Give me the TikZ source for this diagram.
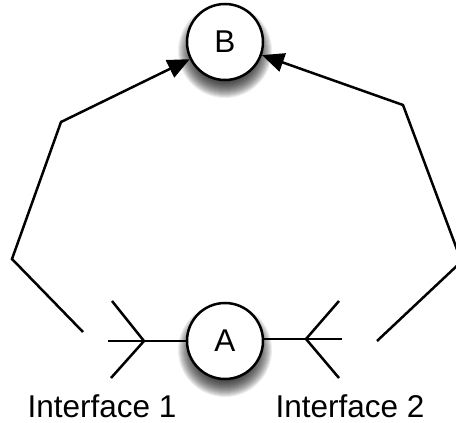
\documentclass[tikz,border=0pt]{standalone}
\usepackage{fontspec}
\setmainfont{Liberation Sans}
\usetikzlibrary{arrows.meta}
\tikzset{
  ball/.style={circle,draw=black,fill=white,line width=2.5pt,minimum size=76pt,inner sep=0pt,font=\fontsize{31.5}{36}\selectfont},
  wire/.style={line width=2.5pt,line join=miter},
  arr/.style={wire,-{Triangle[length=22pt,width=19pt]}},
  lbl/.style={anchor=base,font=\fontsize{31.5}{36}\selectfont}
}
\newcommand{\softshadow}[2]{%
  \foreach \k in {0,...,17}{
    \fill[black,opacity=0.07] (#1,#2+9) circle[radius=30+\k];
  }%
}
\begin{document}
\begin{tikzpicture}[x=1pt,y=-1pt]
\useasboundingbox (0,0) rectangle (456,423);
% shadows
\softshadow{225}{42}
\softshadow{225}{341}
% nodes
\node[ball] (B) at (225,42) {B};
\node[ball] (A) at (225,341) {A};
% left interface fork
\coordinate (f1) at (144,341);
\coordinate (f1u) at (112,301);
\coordinate (f1m) at (108,341);
\coordinate (f1d) at (111,378);
\draw[wire] (A) -- (f1);
\draw[wire] (f1u) -- (f1) -- (f1d);
\draw[wire] (f1m) -- (f1);
% right interface fork
\coordinate (f2) at (306,339);
\coordinate (f2u) at (339,301);
\coordinate (f2m) at (342,339);
\coordinate (f2d) at (339,378);
\draw[wire] (A.east |- f2) -- (f2);
\draw[wire] (f2u) -- (f2) -- (f2d);
\draw[wire] (f2m) -- (f2);
% connectors to B
\coordinate (l0) at (83,332);
\coordinate (l1) at (12,259);
\coordinate (l2) at (61,122);
\draw[arr] (l0) -- (l1) -- (l2) -- (B);
\coordinate (r0) at (377,341);
\coordinate (r1) at (461.5,261.5);
\coordinate (r2) at (403,105);
\draw[arr] (r0) -- (r1) -- (r2) -- (B);
% labels
\node[lbl] (t1) at (102,417) {Interface 1};
\node[lbl] (t2) at (350,417) {Interface 2};
\end{tikzpicture}
\end{document}
